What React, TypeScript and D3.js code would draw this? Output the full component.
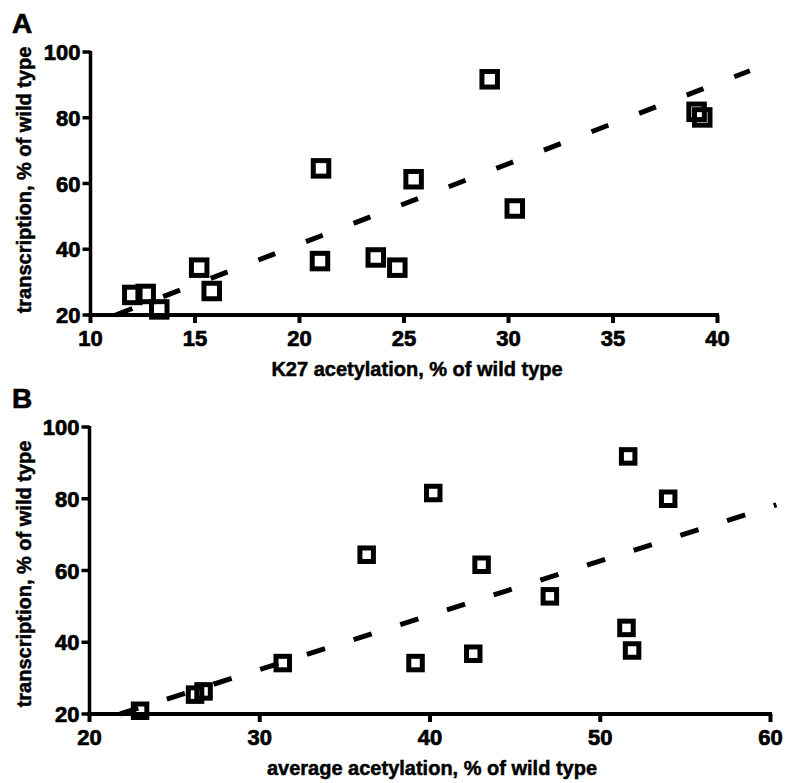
import React from "react";
import * as d3 from "d3";

// Panel A: K27 acetylation vs transcription
const k27X = [12.0, 12.64, 13.29, 15.2, 15.8, 21.03, 20.98, 23.65, 24.68, 25.46, 29.1, 30.3, 39.0, 39.27];
const k27Y = [26.1, 26.4, 21.7, 34.4, 27.3, 64.6, 36.4, 37.5, 34.4, 61.3, 91.7, 52.4, 81.8, 80.1];
const fitA = [[11.2, 20], [41.55, 94.3]];
const ticksAx = [10, 15, 20, 25, 30, 35, 40];

// Panel B: average acetylation vs transcription
const avgX = [22.97, 26.2, 26.7, 31.35, 36.28, 40.19, 39.15, 42.54, 43.03, 47.04, 51.64, 51.54, 51.87, 53.99];
const avgY = [20.9, 25.4, 26.3, 34.2, 64.4, 81.6, 34.2, 36.8, 61.6, 52.8, 91.8, 44.0, 37.7, 80.0];
const fitB = [[21.8, 20], [60.35, 78.3]];
const ticksBx = [20, 30, 40, 50, 60];

const ticksY = [20, 40, 60, 80, 100];
const yTitle = "transcription, % of wild type";
const titleA = "K27 acetylation, % of wild type";
const titleB = "average acetylation, % of wild type";

const FONT = "'Liberation Sans', Arial, Helvetica, sans-serif";

function Panel({ label, xs, ys, fit, xTicks, xDomain, xRange, yRange, xTitle, xTitleX, yTitleY, sq, dash }) {
  const x = d3.scaleLinear().domain(xDomain).range(xRange);
  const y = d3.scaleLinear().domain([20, 100]).range(yRange);
  const line = d3.line().x((d) => x(d[0])).y((d) => y(d[1]));
  const x0 = xRange[0];
  const y0 = yRange[0];
  const heavy = { fontFamily: FONT, fontWeight: "bold", stroke: "#000", strokeWidth: 0.7 };
  return (
    <g>
      <text x={12} y={yRange[1] - 19} {...heavy} fontSize={28}>{label}</text>
      {/* axes */}
      <line x1={x0} x2={x0} y1={y(100) - 1} y2={y0 + 2} stroke="#000" strokeWidth={3.5} />
      <line x1={x0 - 2} x2={xRange[1] + 1.5} y1={y0} y2={y0} stroke="#000" strokeWidth={4} />
      {ticksY.map((t) => (
        <g key={"y" + t}>
          <line x1={x0 - 8} x2={x0} y1={y(t)} y2={y(t)} stroke="#000" strokeWidth={3.5} />
          <text x={x0 - 10} y={y(t) + 8} textAnchor="end" {...heavy} fontSize={22}>{t}</text>
        </g>
      ))}
      {xTicks.map((t) => (
        <g key={"x" + t}>
          <line x1={x(t)} x2={x(t)} y1={y0} y2={y0 + 8} stroke="#000" strokeWidth={4} />
          <text x={x(t)} y={y0 + 31} textAnchor="middle" {...heavy} fontSize={22}>{t}</text>
        </g>
      ))}
      <text x={xTitleX} y={y0 + 61} textAnchor="middle" {...heavy} strokeWidth={0.5} fontSize={20}>{xTitle}</text>
      <text transform={`translate(31,${yTitleY}) rotate(-90)`} textAnchor="middle" {...heavy} strokeWidth={0.5} fontSize={20}>{yTitle}</text>
      <path d={line(fit)} fill="none" stroke="#000" strokeWidth={5} strokeDasharray={dash} />
      {xs.map((v, i) => (
        <rect key={i} x={x(v) - sq / 2} y={y(ys[i]) - sq / 2} width={sq} height={sq} fill="none" stroke="#000" strokeWidth={5} />
      ))}
    </g>
  );
}

export default function App() {
  return (
    <svg width={785} height={783} style={{ position: "absolute", left: 0, top: 0, background: "#fff" }}>
      <rect width={785} height={783} fill="#fff" />
      <Panel label="A" xs={k27X} ys={k27Y} fit={fitA} xTicks={ticksAx} xDomain={[10, 40]} xRange={[90.5, 717.5]} yRange={[315, 52]} xTitle={titleA} xTitleX={417} yTitleY={180} sq={15.5} dash="18,33" />
      <Panel label="B" xs={avgX} ys={avgY} fit={fitB} xTicks={ticksBx} xDomain={[20, 60]} xRange={[89.5, 770.5]} yRange={[714, 427]} xTitle={titleB} xTitleX={432} yTitleY={574} sq={13.5} dash="19,30" />
    </svg>
  );
}
